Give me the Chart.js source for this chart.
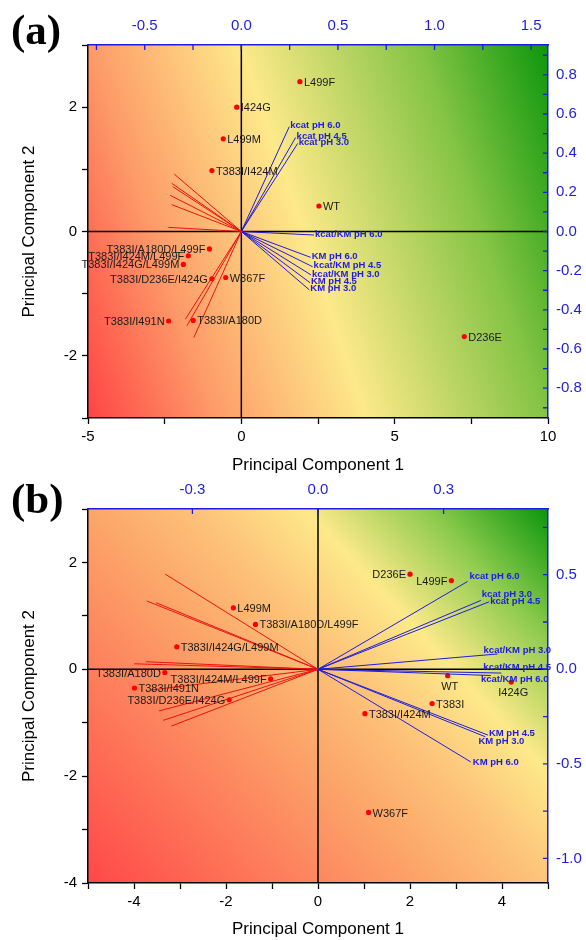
<!DOCTYPE html>
<html>
<head>
<meta charset="utf-8">
<script src="https://cdn.jsdelivr.net/npm/chart.js@4.4.0/dist/chart.umd.min.js"></script>
<style>
  body { margin: 0; background: #fff; width: 586px; height: 940px; position: relative; overflow: hidden; }
  .tag { position: absolute; left: 11px; z-index: 2; font: bold 43px "Liberation Serif", "Times New Roman", serif; color: #000; }
  canvas { position: absolute; left: 0; }
</style>
</head>
<body>
<div class="tag" style="top:5px">(a)</div>
<div class="tag" style="top:474px">(b)</div>
<canvas id="chartA" width="586" height="480" style="top:0"></canvas>
<canvas id="chartB" width="586" height="460" style="top:480px"></canvas>
<script>
// ---- panel (a): scores
const a_names = ["L499F", "I424G", "L499M", "T383I/I424M", "WT", "T383I/A180D/L499F", "T383I/I424M/L499F",
  "T383I/I424G/L499M", "T383I/D236E/I424G", "W367F", "T383I/I491N", "T383I/A180D", "D236E"];
const a_pc1 = [1.91, -0.15, -0.59, -0.96, 2.53, -1.04, -1.73, -1.89, -0.96, -0.51, -2.37, -1.57, 7.27];
const a_pc2 = [2.41, 2.0, 1.49, 0.98, 0.41, -0.28, -0.39, -0.53, -0.76, -0.74, -1.44, -1.43, -1.69];
const a_side = ["r", "r", "r", "r", "r", "l", "l", "l", "l", "r", "l", "r", "r"];
// ---- panel (a): loadings
const a_blue_names = ["kcat pH 6.0", "kcat pH 4.5", "kcat pH 3.0", "kcat/KM pH 6.0", "KM pH 6.0",
  "kcat/KM pH 4.5", "kcat/KM pH 3.0", "KM pH 4.5", "KM pH 3.0"];
const a_blue_x = [0.248, 0.281, 0.292, 0.376, 0.359, 0.369, 0.361, 0.355, 0.352];
const a_blue_y = [0.535, 0.48, 0.45, -0.018, -0.132, -0.18, -0.222, -0.261, -0.298];
const a_red_x = [-0.347, -0.36, -0.355, -0.369, -0.36, -0.378, -0.29, -0.282, -0.246];
const a_red_y = [0.293, 0.246, 0.229, 0.185, 0.137, 0.021, -0.448, -0.482, -0.542];
// ---- panel (a): axes
const a_x_ticks = [-5, -2.5, 0, 2.5, 5, 7.5, 10];
const a_x_labels = [-5, 0, 5, 10];
const a_y_ticks = [-3, -2, -1, 0, 1, 2, 3];
const a_y_labels = [-2, 0, 2];
const a_top_ticks = [-0.75, -0.5, -0.25, 0, 0.25, 0.5, 0.75, 1.0, 1.25, 1.5];
const a_top_labels = [-0.5, 0, 0.5, 1.0, 1.5];
const a_right_ticks = [-0.9, -0.8, -0.7, -0.6, -0.5, -0.4, -0.3, -0.2, -0.1, 0, 0.1, 0.2, 0.3, 0.4, 0.5, 0.6, 0.7, 0.8, 0.9];
const a_right_labels = [-0.8, -0.6, -0.4, -0.2, 0, 0.2, 0.4, 0.6, 0.8];

// ---- panel (b): scores
const b_names = ["D236E", "L499F", "WT", "I424G", "T383I", "T383I/I424M", "W367F", "T383I/A180D/L499F", "L499M",
  "T383I/I424G/L499M", "T383I/A180D", "T383I/I424M/L499F", "T383I/I491N", "T383I/D236E/I424G"];
const b_pc1 = [2.0, 2.9, 2.82, 4.2, 2.48, 1.02, 1.1, -1.36, -1.84, -3.07, -3.33, -1.03, -3.99, -1.93];
const b_pc2 = [1.78, 1.66, -0.12, -0.24, -0.64, -0.83, -2.68, 0.84, 1.15, 0.42, -0.06, -0.18, -0.35, -0.57];
const b_side = ["l", "l", "b", "b", "r", "r", "r", "r", "r", "r", "l", "l", "r", "l"];
// ---- panel (b): loadings
const b_blue_names = ["kcat pH 6.0", "kcat pH 3.0", "kcat pH 4.5", "kcat/KM pH 3.0", "kcat/KM pH 4.5",
  "kcat/KM pH 6.0", "KM pH 4.5", "KM pH 3.0", "KM pH 6.0"];
const b_blue_x = [0.357, 0.389, 0.409, 0.429, 0.438, 0.413, 0.406, 0.40, 0.365];
const b_blue_y = [0.464, 0.364, 0.357, 0.081, -0.02, -0.033, -0.348, -0.357, -0.49];
const b_red_x = [-0.365, -0.409, -0.387, -0.439, -0.411, -0.40, -0.38, -0.37, -0.35];
const b_red_y = [0.503, 0.361, 0.352, 0.029, 0.04, -0.11, -0.22, -0.27, -0.30];
// ---- panel (b): axes
const b_x_ticks = [-5, -4, -3, -2, -1, 0, 1, 2, 3, 4, 5];
const b_x_labels = [-4, -2, 0, 2, 4];
const b_y_ticks = [-4, -3, -2, -1, 0, 1, 2, 3];
const b_y_labels = [-4, -2, 0, 2];
const b_top_ticks = [-0.3, 0, 0.3];
const b_top_labels = [-0.3, 0, 0.3];
const b_right_ticks = [-1.0, -0.75, -0.5, -0.25, 0, 0.25, 0.5, 0.75];
const b_right_labels = [-1.0, -0.5, 0, 0.5];

// label nudges (pixels) for the vector names in (b), they sit close to the right edge
const b_tip_dx = [2, 1, 1, -14, -18, -10, 1, -7, 2];
const b_tip_dy = [-5, -6, 0, -4, -6, 4, -2, 5, 0];

Chart.defaults.font.family = '"Liberation Sans", Arial, sans-serif';
const BLUE = "#1d1de0";

// background colour map, painted inside the plot area
const bgPlugin = {
  id: "bg",
  beforeDraw(chart, args, opts) {
    const a = chart.chartArea, ctx = chart.ctx;
    const w = a.right - a.left, h = a.bottom - a.top;
    const g = ctx.createLinearGradient(a.left, a.bottom, a.left + opts.dx * w, a.bottom - opts.dy * h);
    opts.stops.forEach((s) => g.addColorStop(s[0], s[1]));
    ctx.save();
    ctx.fillStyle = g;
    ctx.fillRect(a.left, a.top, w, h);
    ctx.restore();
  },
};

// zero lines + inward ticks on the blue axes
const axisPlugin = {
  id: "axisLines",
  beforeDatasetsDraw(chart) {
    const a = chart.chartArea, ctx = chart.ctx;
    const x0 = chart.scales.x.getPixelForValue(0);
    const y0 = chart.scales.y.getPixelForValue(0);
    ctx.save();
    ctx.strokeStyle = "#000";
    ctx.lineWidth = 1.5;
    ctx.beginPath();
    ctx.moveTo(x0, a.top); ctx.lineTo(x0, a.bottom);
    ctx.moveTo(a.left, y0); ctx.lineTo(a.right, y0);
    ctx.stroke();
    ctx.strokeStyle = BLUE;
    ctx.lineWidth = 1.3;
    ctx.beginPath();
    chart.scales.x2.ticks.forEach((t) => {
      const px = chart.scales.x2.getPixelForValue(t.value);
      ctx.moveTo(px, a.top); ctx.lineTo(px, a.top + 5);
    });
    chart.scales.y2.ticks.forEach((t) => {
      const py = chart.scales.y2.getPixelForValue(t.value);
      ctx.moveTo(a.right, py); ctx.lineTo(a.right - 5, py);
    });
    ctx.stroke();
    ctx.restore();
  },
};

// text next to points and vector tips
const labelPlugin = {
  id: "pointLabels",
  afterDatasetsDraw(chart) {
    const ctx = chart.ctx;
    chart.data.datasets.forEach((ds, i) => {
      const meta = chart.getDatasetMeta(i);
      ctx.save();
      ctx.textBaseline = "middle";
      if (ds.names) {
        ctx.font = "11px 'Liberation Sans', Arial, sans-serif";
        ctx.fillStyle = "#1a1a1a";
        meta.data.forEach((pt, j) => {
          const side = ds.sides[j];
          if (side === "l") { ctx.textAlign = "right"; ctx.fillText(ds.names[j], pt.x - 4, pt.y + 1); }
          else if (side === "b") { ctx.textAlign = "center"; ctx.fillText(ds.names[j], pt.x + 2, pt.y + 11); }
          else { ctx.textAlign = "left"; ctx.fillText(ds.names[j], pt.x + 4, pt.y + 1); }
        });
      } else if (ds.tip) {
        const pt = meta.data[1];
        ctx.font = "bold 9.5px 'Liberation Sans', Arial, sans-serif";
        ctx.fillStyle = BLUE;
        ctx.textAlign = "left";
        ctx.fillText(ds.tip, pt.x + ds.tipDx, pt.y + ds.tipDy);
      }
      ctx.restore();
    });
  },
};

function pick(labels, digits) {
  return function (v) {
    if (!labels.some((l) => Math.abs(l - v) < 1e-6)) return "";
    return digits ? v.toFixed(digits) : String(v);
  };
}

function vec(x, y, color, tip, dx, dy) {
  return {
    data: [{ x: 0, y: 0 }, { x: x, y: y }],
    xAxisID: "x2", yAxisID: "y2",
    showLine: true, borderColor: color, borderWidth: 1,
    pointRadius: 0, tip: tip, tipDx: dx, tipDy: dy,
  };
}

function makeChart(id, p) {
  const datasets = [];
  p.redX.forEach((x, i) => datasets.push(vec(x, p.redY[i], "#ee1111", "", 0, 0)));
  p.blueX.forEach((x, i) => datasets.push(vec(x, p.blueY[i], BLUE, p.blueNames[i],
    p.tipDx ? p.tipDx[i] : 1, p.tipDy ? p.tipDy[i] : -1)));
  datasets.push({
    data: p.pc1.map((x, i) => ({ x: x, y: p.pc2[i] })),
    xAxisID: "x", yAxisID: "y",
    pointRadius: 2.6, backgroundColor: "#ff0000", borderWidth: 0,
    names: p.names, sides: p.sides,
  });

  new Chart(document.getElementById(id), {
    type: "scatter",
    data: { datasets: datasets },
    plugins: [bgPlugin, axisPlugin, labelPlugin],
    options: {
      responsive: false,
      animation: false,
      layout: { padding: 0 },
      plugins: { legend: { display: false }, tooltip: { enabled: false }, bg: p.bg },
      scales: {
        x: {
          type: "linear", position: "bottom", min: p.xMin, max: p.xMax,
          afterBuildTicks: (s) => { s.ticks = p.xTicks.map((v) => ({ value: v })); },
          afterFit: (s) => { s.height = p.bottomH; },
          ticks: { callback: pick(p.xLabels, 0), color: "#000", font: { size: 15 }, padding: 4, maxRotation: 0, autoSkip: false },
          grid: { drawOnChartArea: false, tickLength: 6, tickColor: "#000", tickWidth: 1.3 },
          border: { color: "#000", width: 1.5 },
          title: { display: true, text: "Principal Component 1", color: "#000", font: { size: 17 }, padding: { top: 0, bottom: p.titleB } },
        },
        y: {
          type: "linear", position: "left", min: p.yMin, max: p.yMax,
          afterBuildTicks: (s) => { s.ticks = p.yTicks.map((v) => ({ value: v })); },
          afterFit: (s) => { s.width = 88; },
          ticks: { callback: pick(p.yLabels, 0), color: "#000", font: { size: 15 }, padding: 5, autoSkip: false },
          grid: { drawOnChartArea: false, tickLength: 6, tickColor: "#000", tickWidth: 1.3 },
          border: { color: "#000", width: 1.5 },
          title: { display: true, text: "Principal Component 2", color: "#000", font: { size: 17 }, padding: { top: 19, bottom: 0 } },
        },
        x2: {
          type: "linear", position: "top", min: p.topMin, max: p.topMax,
          afterBuildTicks: (s) => { s.ticks = p.topTicks.map((v) => ({ value: v })); },
          afterFit: (s) => { s.height = p.topH; },
          ticks: { callback: pick(p.topLabels, 1), color: BLUE, font: { size: 15 }, padding: 10, maxRotation: 0, autoSkip: false },
          grid: { drawOnChartArea: false, drawTicks: false },
          border: { color: BLUE, width: 1.5 },
        },
        y2: {
          type: "linear", position: "right", min: p.rightMin, max: p.rightMax,
          afterBuildTicks: (s) => { s.ticks = p.rightTicks.map((v) => ({ value: v })); },
          afterFit: (s) => { s.width = 38; },
          ticks: { callback: pick(p.rightLabels, 1), color: BLUE, font: { size: 15 }, padding: 8, autoSkip: false },
          grid: { drawOnChartArea: false, drawTicks: false },
          border: { color: BLUE, width: 1.5 },
        },
      },
    },
  });
}

makeChart("chartA", {
  names: a_names, pc1: a_pc1, pc2: a_pc2, sides: a_side,
  blueNames: a_blue_names, blueX: a_blue_x, blueY: a_blue_y, redX: a_red_x, redY: a_red_y,
  xMin: -5, xMax: 10, xTicks: a_x_ticks, xLabels: a_x_labels,
  yMin: -3, yMax: 3, yTicks: a_y_ticks, yLabels: a_y_labels,
  topMin: -5 / 6.3, topMax: 10 / 6.3, topTicks: a_top_ticks, topLabels: a_top_labels,
  rightMin: -3 / 3.15, rightMax: 3 / 3.15, rightTicks: a_right_ticks, rightLabels: a_right_labels,
  topH: 45, bottomH: 62, titleB: 4,
  bg: { dx: 1.145, dy: 0.48, stops: [[0, "#ff4444"], [0.216, "#fd9a68"], [0.475, "#fde98a"], [0.78, "#84c444"], [1, "#0c960c"]] },
});

makeChart("chartB", {
  names: b_names, pc1: b_pc1, pc2: b_pc2, sides: b_side,
  blueNames: b_blue_names, blueX: b_blue_x, blueY: b_blue_y, redX: b_red_x, redY: b_red_y,
  tipDx: b_tip_dx, tipDy: b_tip_dy,
  xMin: -5, xMax: 5, xTicks: b_x_ticks, xLabels: b_x_labels,
  yMin: -4, yMax: 3, yTicks: b_y_ticks, yLabels: b_y_labels,
  topMin: -5 / 9.1, topMax: 5 / 9.1, topTicks: b_top_ticks, topLabels: b_top_labels,
  rightMin: -4 / 3.54, rightMax: 3 / 3.54, rightTicks: b_right_ticks, rightLabels: b_right_labels,
  topH: 29, bottomH: 57, titleB: 0,
  bg: { dx: 0.944, dy: 1.072, stops: [[0, "#ff4848"], [0.43, "#fca66a"], [0.57, "#fdc47a"], [0.70, "#fde98a"], [0.85, "#8ecb4e"], [1, "#0c960c"]] },
});
</script>
</body>
</html>
